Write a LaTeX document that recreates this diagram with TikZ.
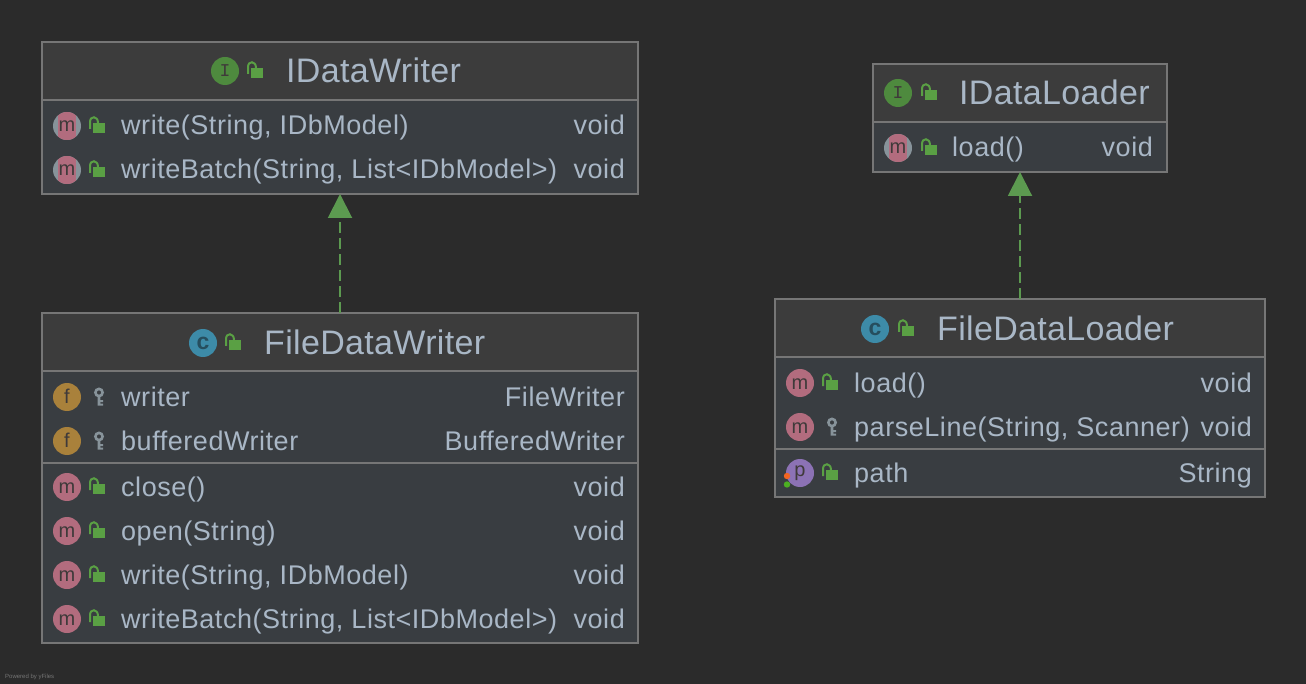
\documentclass[tikz,border=0pt]{standalone}
\usepackage{fontspec}
\setsansfont{Liberation Sans}
\setmonofont{Liberation Mono}
\newfontfamily\membertype[LetterSpace=2]{Liberation Sans}
\newfontfamily\titletype[LetterSpace=1]{Liberation Sans}
\usetikzlibrary{arrows.meta}

\definecolor{canvasbg}{HTML}{2B2B2B}
\definecolor{titlebg}{HTML}{3C3C3C}
\definecolor{bodybg}{HTML}{393D41}
\definecolor{boxline}{HTML}{767676}
\definecolor{labeltext}{HTML}{A9B7C6}
\definecolor{icondark}{HTML}{3F3A3A}
\definecolor{methodpink}{HTML}{B26C7E}
\definecolor{fieldgold}{HTML}{A9813B}
\definecolor{propviolet}{HTML}{8C72B5}
\definecolor{ifacegreen}{HTML}{4E8A3E}
\definecolor{classblue}{HTML}{3D8BA8}
\definecolor{classdark}{HTML}{264E5E}
\definecolor{lockgreen}{HTML}{5AA044}
\definecolor{keygrey}{HTML}{87939A}
\definecolor{arrowgreen}{HTML}{5C9A50}
\definecolor{dotorange}{HTML}{F26522}
\definecolor{dotgreen}{HTML}{4CAF22}

\tikzset{
  classbox/.style={rectangle,draw=boxline,fill=bodybg,line width=2pt,inner sep=0pt,outer sep=0pt},
  titlebox/.style={classbox,fill=titlebg},
  roundicon/.style={circle,inner sep=0pt,minimum size=28pt,text=icondark,text height=12pt,text depth=0pt,
    font=\sffamily\fontsize{20}{20}\selectfont},
  micon/.style={roundicon,fill=methodpink},
  ficon/.style={roundicon,fill=fieldgold},
  picon/.style={roundicon,fill=propviolet,text height=7pt},
  iicon/.style={roundicon,fill=ifacegreen,font=\ttfamily\fontsize{18}{18}\selectfont},
  cicon/.style={roundicon,fill=classblue,text=classdark,text height=13pt,font=\sffamily\bfseries\fontsize{23}{23}\selectfont},
  abstracticon/.style={roundicon,fill=keygrey,
    path picture={\fill[methodpink] ([xshift=-9pt]path picture bounding box.south) rectangle ([xshift=9pt]path picture bounding box.north);}},
  titletext/.style={anchor=base west,inner sep=0pt,text=labeltext,font=\titletype\fontsize{34}{34}\selectfont},
  member/.style={anchor=base west,inner sep=0pt,text=labeltext,font=\membertype\fontsize{27}{27}\selectfont},
  rettype/.style={member,anchor=base east},
  realizes/.style={draw=arrowgreen,line width=2pt,dash pattern=on 11pt off 5pt,
    -{Triangle[width=24pt,length=24pt,fill=arrowgreen]}},
  lock/.pic={
    \fill[lockgreen] (-4,-3) rectangle (8,7);
    \draw[lockgreen,line width=2pt] (-7,3) -- (-7,-4) .. controls (-7,-10.5) and (1,-10.5) .. (1,-3);
  },
  key/.pic={
    \draw[keygrey,line width=2.6pt] (2,-4.5) circle [radius=3.6pt];
    \fill[keygrey] (0.6,-1.5) rectangle (3.4,8.5) (3,3) rectangle (6,5) (3,6.5) rectangle (6,8.5);
  },
}

\begin{document}
\begin{tikzpicture}[x=1pt,y=-1pt]

  \useasboundingbox (0,0) rectangle (1306,684);
  \fill[canvasbg] (0,0) rectangle (1306,684);

  % IDataWriter
  \node[classbox, minimum width=596pt, minimum height=152pt] (idw) at (340,118) {};
  \node[titlebox, minimum width=596pt, minimum height=58pt] (idwTitle) at (340,71) {};
  \node[iicon] (idwIcon) at (225,71) {I};
  \pic at (255,71) {lock};
  \node[titletext] (idwName) at (286,83) {IDataWriter};
  \node[abstracticon] (idwM1) at (67,126) {m};
  \pic at (97,126) {lock};
  \node[member] (idwN1) at (121,135) {write(String, IDbModel)};
  \node[rettype] (idwR1) at (625,135) {void};
  \node[abstracticon] (idwM2) at (67,170) {m};
  \pic at (97,170) {lock};
  \node[member] (idwN2) at (121,179) {writeBatch(String, List<IDbModel>)};
  \node[rettype] (idwR2) at (625,179) {void};

  % FileDataWriter
  \node[classbox, minimum width=596pt, minimum height=330pt] (fdw) at (340,478) {};
  \node[titlebox, minimum width=596pt, minimum height=58pt] (fdwTitle) at (340,342) {};
  \node[cicon] (fdwIcon) at (203,343) {c};
  \pic at (233,343) {lock};
  \node[titletext] (fdwName) at (264,355) {FileDataWriter};
  \node[ficon] (fdwF1) at (67,397) {f};
  \pic at (97,397) {key};
  \node[member] (fdwN1) at (121,406) {writer};
  \node[rettype] (fdwR1) at (625,406) {FileWriter};
  \node[ficon] (fdwF2) at (67,441) {f};
  \pic at (97,441) {key};
  \node[member] (fdwN2) at (121,450) {bufferedWriter};
  \node[rettype] (fdwR2) at (625,450) {BufferedWriter};
  \draw[boxline, line width=2pt] (fdw.west |- 0,463) -- (fdw.east |- 0,463);
  \node[micon] (fdwM3) at (67,487) {m};
  \pic at (97,487) {lock};
  \node[member] (fdwN3) at (121,496) {close()};
  \node[rettype] (fdwR3) at (625,496) {void};
  \node[micon] (fdwM4) at (67,531) {m};
  \pic at (97,531) {lock};
  \node[member] (fdwN4) at (121,540) {open(String)};
  \node[rettype] (fdwR4) at (625,540) {void};
  \node[micon] (fdwM5) at (67,575) {m};
  \pic at (97,575) {lock};
  \node[member] (fdwN5) at (121,584) {write(String, IDbModel)};
  \node[rettype] (fdwR5) at (625,584) {void};
  \node[micon] (fdwM6) at (67,619) {m};
  \pic at (97,619) {lock};
  \node[member] (fdwN6) at (121,628) {writeBatch(String, List<IDbModel>)};
  \node[rettype] (fdwR6) at (625,628) {void};

  % IDataLoader
  \node[classbox, minimum width=294pt, minimum height=108pt] (idl) at (1020,118) {};
  \node[titlebox, minimum width=294pt, minimum height=58pt] (idlTitle) at (1020,93) {};
  \node[iicon] (idlIcon) at (898,93) {I};
  \pic at (929,93) {lock};
  \node[titletext] (idlName) at (959,105) {IDataLoader};
  \node[abstracticon] (idlM1) at (898,148) {m};
  \pic at (929,148) {lock};
  \node[member] (idlN1) at (952,157) {load()};
  \node[rettype] (idlR1) at (1153,157) {void};

  % FileDataLoader
  \node[classbox, minimum width=490pt, minimum height=198pt] (fdl) at (1020,398) {};
  \node[titlebox, minimum width=490pt, minimum height=58pt] (fdlTitle) at (1020,328) {};
  \node[cicon] (fdlIcon) at (875,329) {c};
  \pic at (906,329) {lock};
  \node[titletext] (fdlName) at (937,341) {FileDataLoader};
  \node[micon] (fdlM1) at (800,383) {m};
  \pic at (830,383) {lock};
  \node[member] (fdlN1) at (854,392) {load()};
  \node[rettype] (fdlR1) at (1252,392) {void};
  \node[micon] (fdlM2) at (800,427) {m};
  \pic at (830,427) {key};
  \node[member] (fdlN2) at (854,436) {parseLine(String, Scanner)};
  \node[rettype] (fdlR2) at (1252,436) {void};
  \draw[boxline, line width=2pt] (fdl.west |- 0,449) -- (fdl.east |- 0,449);
  \node[picon] (fdlP1) at (800,473) {p};
  \fill[dotorange] (787,476) circle [radius=3.2pt];
  \fill[dotgreen] (787,484.5) circle [radius=3.2pt];
  \pic at (830,473) {lock};
  \node[member] (fdlN3) at (854,482) {path};
  \node[rettype] (fdlR3) at (1252,482) {String};

  \node[anchor=base west, inner sep=0pt, text=white!35!canvasbg, font=\sffamily\fontsize{6}{6}\selectfont] (yfiles) at (5,678) {Powered by yFiles};

  \draw[realizes] (fdw.north) -- (idw.south);
  \draw[realizes] (fdl.north) -- (idl.south);

\end{tikzpicture}
\end{document}
